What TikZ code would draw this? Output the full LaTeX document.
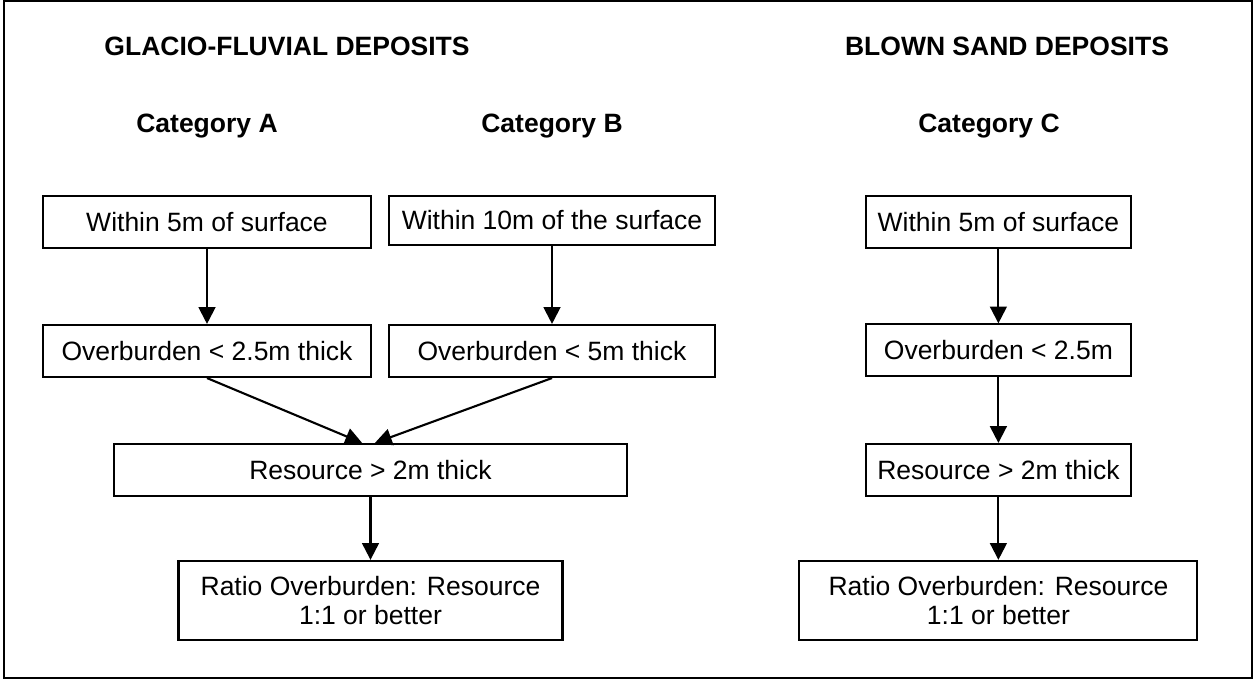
\documentclass[tikz,border=0pt]{standalone}
\usepackage{fontspec}
\setmainfont{Liberation Sans}
\usetikzlibrary{calc}
\usetikzlibrary{arrows.meta}

\begin{document}
\begin{tikzpicture}[>={Triangle[length=4.2mm,width=4.2mm]}, line width=1.5pt,
		font=\fontsize{18.85}{20.5}\selectfont,
		cbox/.style={rectangle, draw=black!100, minimum height=13mm, inner sep=0pt, align=center},
		head/.style={font=\fontsize{18.85}{20.5}\selectfont\bfseries, anchor=base}]
		\useasboundingbox (0,0) rectangle (31.375,-17);
		\draw [line width=1.6pt] (0.1,-0.03) rectangle (31.3,-16.95);

		%titles
		\node [head] at (7.175,-1.4) (glacio) {GLACIO-FLUVIAL DEPOSITS};
		\node [head] at (25.175,-1.4) (blown) {BLOWN SAND DEPOSITS};
		\node [head] at (5.175,-3.3) (cata) {Category A};
		\node [head] at (13.8,-3.3) (catb) {Category B};
		\node [head] at (24.725,-3.3) (catc) {Category C};

		%elements
		\node [cbox, minimum width=82mm] at (5.175,-5.55) (a1) {Within 5m of surface};
		\node [cbox, minimum width=81.5mm, minimum height=12.4mm] at (13.8,-5.51) (b1) {Within 10m of the surface};
		\node [cbox, minimum width=82mm] at ($(a1)+(0cm,-3.225cm)$) (a2) {Overburden < 2.5m thick};
		\node [cbox, minimum width=81.5mm] at ($(b1)+(0cm,-3.265cm)$) (b2) {Overburden < 5m thick};
		\node [cbox, minimum width=128.25mm] at (9.2625,-11.75) (res) {Resource > 2m thick};
		\node [cbox, minimum width=96mm, minimum height=19.75mm] at ($(res)+(0cm,-3.26cm)$) (rata) {Ratio Overburden: Resource\\1:1 or better};

		\node [cbox, minimum width=66.25mm] at (24.96,-5.55) (c1) {Within 5m of surface};
		\node [cbox, minimum width=66.25mm] at ($(c1)+(0cm,-3.21cm)$) (c2) {Overburden < 2.5m};
		\node [cbox, minimum width=66.25mm] at ($(c2)+(0cm,-2.99cm)$) (c3) {Resource > 2m thick};
		\node [cbox, minimum width=99.5mm, minimum height=19.75mm] at ($(c3)+(0cm,-3.26cm)$) (ratc) {Ratio Overburden: Resource\\1:1 or better};

		%arrows
		\draw [->] (a1.south) -- (a2.north);
		\draw [->] (b1.south) -- (b2.north);
		\draw [->] (a2.south) -- ($(res.north)+(-0.21cm,0cm)$);
		\draw [->] (b2.south) -- ($(res.north)+(0.11cm,0cm)$);
		\draw [->] (res.south) -- (rata.north);
		\draw [->] (c1.south) -- (c2.north);
		\draw [->] (c2.south) -- (c3.north);
		\draw [->] (c3.south) -- (ratc.north);
\end{tikzpicture}
\end{document}
